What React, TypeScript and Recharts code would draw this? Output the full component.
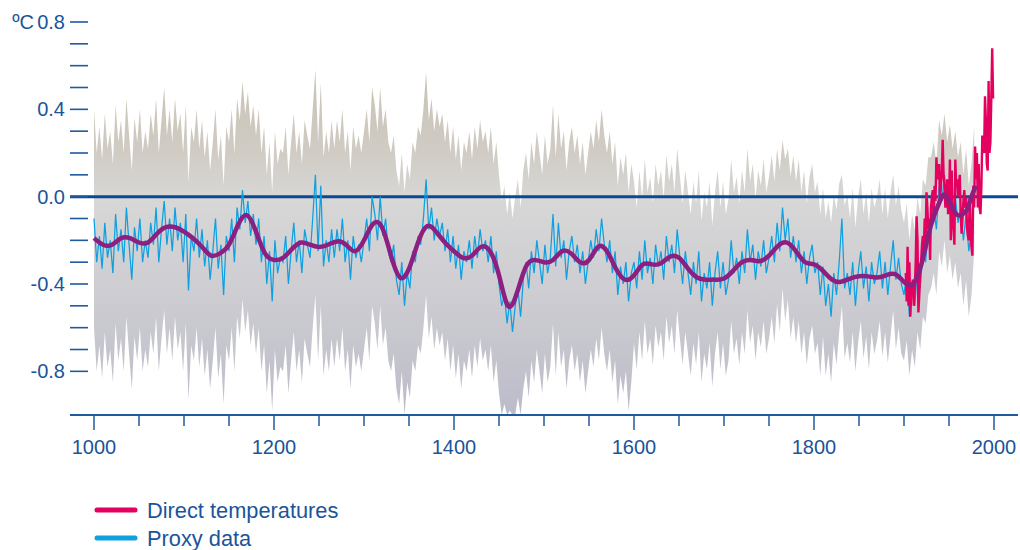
import React from 'react';
import { ComposedChart, Area, Line, XAxis, YAxis, ReferenceLine } from 'recharts';

// ---- data ----
const PROXY_START = 1000;
const PROXY_STEP = 3;

// Proxy reconstruction (blue), every 3 years, 1000-1978
const proxy: number[] = [
  -0.10, -0.30, -0.18, -0.33, -0.12, -0.28, -0.20, -0.35, -0.08, -0.25,
  -0.15, -0.30, -0.05, -0.22, -0.38, -0.14, -0.25, -0.10, -0.30, -0.20,
  -0.28, -0.12, -0.22, -0.05, -0.30, -0.15, -0.02, -0.22, -0.10, -0.25,
  -0.05, -0.20, -0.12, -0.30, -0.08, -0.43, -0.18, -0.25, -0.10, -0.28,
  -0.15, -0.32, -0.20, -0.38, -0.25, -0.10, -0.33, -0.22, -0.45, -0.18,
  -0.25, -0.10, -0.30, -0.05, -0.15, 0.03, -0.12, -0.02, -0.18, -0.08,
  -0.22, -0.10, -0.30, -0.18, -0.40, -0.25, -0.48, -0.20, -0.35, -0.28,
  -0.30, -0.18, -0.40, -0.25, -0.12, -0.30, -0.20, -0.35, -0.15, -0.22,
  -0.28, -0.10, 0.10, -0.25, 0.05, -0.32, -0.20, -0.30, -0.15, -0.28,
  -0.15, -0.25, -0.10, -0.30, -0.20, -0.38, -0.18, -0.28, -0.22, -0.30,
  -0.20, -0.10, -0.25, 0.00, -0.08, -0.20, 0.00, -0.18, -0.10, -0.25,
  -0.30, -0.22, -0.38, -0.45, -0.30, -0.50, -0.35, -0.42, -0.25, -0.30,
  -0.18, -0.22, -0.10, 0.08, -0.15, -0.05, -0.20, -0.10, -0.18, -0.12,
  -0.25, -0.15, -0.30, -0.18, -0.33, -0.22, -0.38, -0.25, -0.30, -0.20,
  -0.33, -0.18, -0.28, -0.15, -0.25, -0.20, -0.30, -0.18, -0.35, -0.25,
  -0.40, -0.50, -0.45, -0.58, -0.48, -0.62, -0.50, -0.42, -0.55, -0.38,
  -0.30, -0.42, -0.25, -0.35, -0.20, -0.30, -0.40, -0.22, -0.35, -0.28,
  -0.08, -0.32, -0.12, -0.28, -0.20, -0.38, -0.25, -0.18, -0.30, -0.22,
  -0.35, -0.25, -0.40, -0.30, -0.20, -0.28, -0.15, -0.25, -0.10, -0.22,
  -0.30, -0.20, -0.35, -0.25, -0.45, -0.32, -0.40, -0.30, -0.48, -0.35,
  -0.30, -0.42, -0.25, -0.38, -0.20, -0.35, -0.28, -0.40, -0.22, -0.32,
  -0.25, -0.38, -0.18, -0.30, -0.22, -0.35, -0.15, -0.28, -0.40, -0.25,
  -0.35, -0.45, -0.30, -0.40, -0.25, -0.48, -0.35, -0.42, -0.30, -0.50,
  -0.35, -0.25, -0.42, -0.30, -0.45, -0.38, -0.20, -0.35, -0.28, -0.40,
  -0.25, -0.35, -0.15, -0.30, -0.22, -0.38, -0.25, -0.32, -0.20, -0.35,
  -0.28, -0.18, -0.30, -0.12, -0.25, -0.05, -0.20, -0.10, -0.28, -0.18,
  -0.30, -0.20, -0.35, -0.25, -0.40, -0.28, -0.22, -0.35, -0.30, -0.45,
  -0.32, -0.50, -0.40, -0.55, -0.35, -0.45, -0.30, -0.10, -0.42, -0.35,
  -0.45, -0.30, -0.50, -0.35, -0.25, -0.42, -0.32, -0.48, -0.30, -0.40,
  -0.35, -0.25, -0.42, -0.30, -0.45, -0.32, -0.20, -0.38, -0.28, -0.40,
  -0.45, -0.35, -0.55, -0.40, -0.50, -0.32, -0.42, -0.25, -0.30, -0.15,
  -0.12, -0.05, -0.15, 0.05, -0.02, 0.10, -0.05, 0.03, -0.08, 0.00,
  -0.12, -0.05, -0.20, -0.08, -0.25, -0.15, 0.05,
];

// Upper edge of the uncertainty band, same years
const bandHigh: number[] = [
  0.40, 0.20, 0.32, 0.17, 0.38, 0.22, 0.30, 0.15, 0.42, 0.25,
  0.35, 0.20, 0.45, 0.28, 0.12, 0.36, 0.25, 0.40, 0.20, 0.30,
  0.22, 0.38, 0.28, 0.45, 0.20, 0.35, 0.50, 0.28, 0.40, 0.25,
  0.45, 0.30, 0.38, 0.20, 0.42, 0.07, 0.32, 0.25, 0.40, 0.22,
  0.35, 0.18, 0.30, 0.12, 0.25, 0.40, 0.17, 0.28, 0.05, 0.32,
  0.25, 0.40, 0.20, 0.45, 0.35, 0.53, 0.38, 0.48, 0.32, 0.42,
  0.28, 0.40, 0.20, 0.32, 0.10, 0.25, 0.02, 0.30, 0.15, 0.22,
  0.20, 0.32, 0.10, 0.25, 0.38, 0.20, 0.30, 0.15, 0.35, 0.28,
  0.22, 0.40, 0.58, 0.25, 0.52, 0.18, 0.30, 0.20, 0.35, 0.22,
  0.35, 0.25, 0.40, 0.20, 0.30, 0.12, 0.32, 0.22, 0.28, 0.20,
  0.30, 0.40, 0.25, 0.50, 0.42, 0.30, 0.50, 0.32, 0.40, 0.25,
  0.20, 0.28, 0.12, 0.05, 0.20, 0.02, 0.15, 0.08, 0.25, 0.20,
  0.32, 0.28, 0.40, 0.57, 0.35, 0.45, 0.30, 0.40, 0.32, 0.38,
  0.25, 0.35, 0.20, 0.32, 0.17, 0.28, 0.12, 0.25, 0.20, 0.30,
  0.17, 0.32, 0.22, 0.35, 0.25, 0.30, 0.20, 0.32, 0.15, 0.25,
  0.10, -0.02, 0.05, -0.08, 0.02, -0.10, 0.00, 0.08, -0.05, 0.12,
  0.20, 0.08, 0.25, 0.15, 0.30, 0.20, 0.10, 0.28, 0.15, 0.22,
  0.42, 0.18, 0.38, 0.22, 0.30, 0.12, 0.25, 0.32, 0.20, 0.28,
  0.15, 0.25, 0.10, 0.20, 0.30, 0.22, 0.35, 0.25, 0.40, 0.28,
  0.20, 0.30, 0.15, 0.25, 0.05, 0.18, 0.10, 0.20, 0.02, 0.15,
  0.07, -0.05, 0.12, -0.01, 0.17, 0.02, 0.09, -0.03, 0.15, 0.05,
  0.12, -0.01, 0.19, 0.07, 0.15, 0.02, 0.22, 0.09, -0.03, 0.12,
  0.02, -0.08, 0.07, -0.03, 0.12, -0.11, 0.02, -0.05, 0.07, -0.13,
  0.02, 0.12, -0.05, 0.07, -0.08, -0.01, 0.17, 0.02, 0.09, -0.03,
  0.12, 0.02, 0.22, 0.07, 0.15, -0.01, 0.12, 0.05, 0.17, 0.02,
  0.09, 0.19, 0.07, 0.22, 0.12, 0.26, 0.17, 0.22, 0.09, 0.19,
  0.07, 0.17, 0.02, 0.12, -0.03, 0.09, 0.15, 0.02, 0.07, -0.08,
  0.04, -0.10, -0.02, -0.12, 0.01, -0.06, 0.06, 0.10, -0.04, 0.01,
  -0.10, 0.04, -0.14, 0.00, 0.08, -0.08, 0.02, -0.12, 0.04, -0.05,
  0.00, 0.08, -0.08, 0.04, -0.10, 0.02, 0.10, -0.04, 0.05, -0.06,
  -0.12, -0.03, -0.20, -0.08, -0.15, 0.00, -0.08, 0.08, 0.05, 0.18,
  0.18, 0.25, 0.15, 0.35, 0.28, 0.38, 0.25, 0.33, 0.22, 0.30,
  0.18, 0.25, 0.10, 0.22, 0.05, 0.15, 0.32,
];

// Lower edge of the uncertainty band, same years
const bandLow: number[] = [
  -0.60, -0.80, -0.68, -0.83, -0.62, -0.78, -0.70, -0.85, -0.58, -0.75,
  -0.65, -0.80, -0.55, -0.72, -0.88, -0.64, -0.75, -0.60, -0.80, -0.70,
  -0.78, -0.62, -0.72, -0.55, -0.80, -0.65, -0.52, -0.72, -0.60, -0.75,
  -0.55, -0.70, -0.62, -0.80, -0.58, -0.93, -0.68, -0.75, -0.60, -0.78,
  -0.65, -0.82, -0.70, -0.88, -0.75, -0.60, -0.83, -0.72, -0.95, -0.68,
  -0.75, -0.60, -0.80, -0.55, -0.65, -0.47, -0.62, -0.52, -0.68, -0.58,
  -0.72, -0.60, -0.80, -0.68, -0.90, -0.75, -0.98, -0.70, -0.85, -0.78,
  -0.80, -0.68, -0.90, -0.75, -0.62, -0.80, -0.70, -0.85, -0.65, -0.72,
  -0.78, -0.60, -0.45, -0.75, -0.50, -0.82, -0.70, -0.80, -0.65, -0.78,
  -0.65, -0.75, -0.60, -0.80, -0.70, -0.88, -0.68, -0.78, -0.72, -0.80,
  -0.70, -0.60, -0.75, -0.50, -0.58, -0.70, -0.50, -0.68, -0.60, -0.75,
  -0.80, -0.72, -0.88, -0.95, -0.80, -1.00, -0.85, -0.92, -0.75, -0.80,
  -0.68, -0.72, -0.60, -0.45, -0.65, -0.55, -0.70, -0.60, -0.68, -0.62,
  -0.75, -0.65, -0.80, -0.68, -0.83, -0.72, -0.88, -0.75, -0.80, -0.70,
  -0.83, -0.68, -0.78, -0.65, -0.75, -0.70, -0.80, -0.68, -0.85, -0.75,
  -0.90, -1.00, -0.95, -1.00, -0.98, -1.00, -1.00, -0.92, -1.00, -0.88,
  -0.80, -0.92, -0.75, -0.85, -0.70, -0.80, -0.90, -0.72, -0.85, -0.78,
  -0.58, -0.82, -0.62, -0.78, -0.70, -0.88, -0.75, -0.68, -0.80, -0.72,
  -0.85, -0.75, -0.90, -0.80, -0.70, -0.78, -0.65, -0.75, -0.60, -0.72,
  -0.80, -0.70, -0.85, -0.75, -0.95, -0.82, -0.90, -0.80, -0.98, -0.85,
  -0.67, -0.79, -0.62, -0.75, -0.57, -0.72, -0.65, -0.77, -0.59, -0.69,
  -0.62, -0.75, -0.55, -0.67, -0.59, -0.72, -0.52, -0.65, -0.77, -0.62,
  -0.72, -0.82, -0.67, -0.77, -0.62, -0.85, -0.72, -0.79, -0.67, -0.87,
  -0.72, -0.62, -0.79, -0.67, -0.82, -0.75, -0.57, -0.72, -0.65, -0.77,
  -0.62, -0.72, -0.52, -0.67, -0.59, -0.75, -0.62, -0.69, -0.57, -0.72,
  -0.65, -0.55, -0.67, -0.49, -0.62, -0.42, -0.57, -0.47, -0.65, -0.55,
  -0.67, -0.57, -0.72, -0.62, -0.77, -0.65, -0.59, -0.72, -0.67, -0.82,
  -0.64, -0.82, -0.72, -0.85, -0.67, -0.77, -0.62, -0.50, -0.74, -0.67,
  -0.76, -0.62, -0.80, -0.67, -0.57, -0.74, -0.64, -0.79, -0.62, -0.72,
  -0.66, -0.57, -0.73, -0.62, -0.76, -0.64, -0.52, -0.70, -0.60, -0.72,
  -0.75, -0.66, -0.82, -0.70, -0.78, -0.62, -0.70, -0.55, -0.58, -0.45,
  -0.42, -0.35, -0.45, -0.25, -0.32, -0.20, -0.35, -0.27, -0.38, -0.30,
  -0.42, -0.35, -0.50, -0.38, -0.55, -0.45, -0.25,
];

// Smoothed reconstruction (purple)
const smoothYears: number[] = [
  1000, 1010, 1020, 1030, 1040, 1050, 1060, 1070, 1080, 1090,
  1100, 1110, 1120, 1130, 1140, 1150, 1160, 1170, 1180, 1190,
  1200, 1210, 1220, 1230, 1240, 1250, 1260, 1270, 1280, 1290,
  1300, 1310, 1320, 1330, 1340, 1350, 1360, 1370, 1380, 1390,
  1400, 1410, 1420, 1430, 1440, 1450, 1460, 1470, 1480, 1490,
  1500, 1510, 1520, 1530, 1540, 1550, 1560, 1570, 1580, 1590,
  1600, 1610, 1620, 1630, 1640, 1650, 1660, 1670, 1680, 1690,
  1700, 1710, 1720, 1730, 1740, 1750, 1760, 1770, 1780, 1790,
  1800, 1810, 1820, 1830, 1840, 1850, 1860, 1870, 1880, 1890,
  1900, 1910, 1920, 1930, 1940, 1945, 1950, 1955, 1960, 1965,
  1970, 1975, 1980,
];
const smoothValues: number[] = [
  -0.19, -0.22, -0.22, -0.19, -0.19, -0.21, -0.21, -0.17, -0.14, -0.14,
  -0.16, -0.19, -0.23, -0.27, -0.26, -0.22, -0.13, -0.085, -0.16, -0.26,
  -0.29, -0.28, -0.24, -0.21, -0.22, -0.23, -0.22, -0.205, -0.22, -0.25,
  -0.2, -0.125, -0.14, -0.27, -0.37, -0.33, -0.21, -0.135, -0.16, -0.21,
  -0.25, -0.28, -0.27, -0.23, -0.25, -0.36, -0.5, -0.44, -0.32, -0.29,
  -0.3, -0.29, -0.25, -0.26, -0.3, -0.29, -0.23, -0.25, -0.33, -0.38,
  -0.36, -0.31, -0.31, -0.305, -0.275, -0.28, -0.33, -0.37, -0.38, -0.38,
  -0.375, -0.34, -0.3, -0.29, -0.295, -0.27, -0.225, -0.21, -0.25, -0.3,
  -0.31, -0.34, -0.38, -0.39, -0.375, -0.365, -0.365, -0.37, -0.36, -0.355,
  -0.39, -0.4, -0.3, -0.13, -0.02, 0.01, -0.02, -0.06, -0.085, -0.08,
  -0.06, 0.0, 0.05,
];

// Direct (instrumental) temperatures (red), annual 1902-1999
const DIRECT_START = 1902;
const direct: number[] = [
  -0.35, -0.48, -0.23, -0.50, -0.30, -0.55, -0.45, -0.40,
  -0.38, -0.50, -0.42, -0.30, -0.09, -0.20, -0.53, -0.45, -0.35, -0.30,
  -0.22, -0.18, -0.25, -0.10, -0.20, 0.02, -0.05, -0.15, -0.10, -0.29,
  -0.05, 0.00, 0.03, -0.10, 0.05, -0.02, 0.18, 0.10, 0.08, 0.15,
  -0.02, 0.05, 0.12, 0.26, 0.10, 0.05, -0.05, 0.00, 0.08, -0.08,
  -0.05, 0.17, -0.20, 0.12, -0.10, -0.15, -0.22, 0.17, 0.05, 0.08,
  0.00, 0.05, 0.10, -0.08, -0.17, -0.10, -0.02, 0.03, -0.05, 0.00,
  -0.14, -0.18, -0.20, 0.00, -0.15, -0.23, -0.27, 0.05, -0.05, 0.23,
  0.08, 0.20, -0.05, 0.15, -0.05, -0.08, 0.05, 0.28, 0.22, 0.20,
  0.46, 0.35, 0.15, 0.12, 0.53, 0.20, 0.25, 0.45, 0.68, 0.45,
];

const xTicks: number[] = [
  1000, 1050, 1100, 1150, 1200, 1250, 1300, 1350, 1400, 1450, 1500,
  1550, 1600, 1650, 1700, 1750, 1800, 1850, 1900, 1950, 2000,
];
const xLabels: number[] = [1000, 1200, 1400, 1600, 1800, 2000];
const yTicks: number[] = [
  -0.8, -0.7, -0.6, -0.5, -0.4, -0.3, -0.2, -0.1, 0,
  0.1, 0.2, 0.3, 0.4, 0.5, 0.6, 0.7, 0.8,
];
const yLabels: number[] = [-0.8, -0.4, 0, 0.4, 0.8];
const unitLabel = '\u00BAC';
const legendItems = [
  { label: 'Direct temperatures', color: '#e4005e' },
  { label: 'Proxy data', color: '#0ea0e0' },
];

// ---- built tables ----
const proxyData = proxy.map((v, i) => ({ year: PROXY_START + i * PROXY_STEP, v }));
const bandData = proxy.map((_, i) => ({
  year: PROXY_START + i * PROXY_STEP,
  range: [bandLow[i], bandHigh[i]],
}));
const smoothData = smoothYears.map((y, i) => ({ year: y, v: smoothValues[i] }));
const directData = direct.map((v, i) => ({ year: DIRECT_START + i, v }));

const FONT = '"Liberation Sans", Arial, Helvetica, sans-serif';
const TEXT = '#1b5499';
const AXIS = '#1f5a9e';

const XTick = (props: any) => {
  const { x, y, payload } = props;
  const major = xLabels.includes(payload.value);
  return (
    <g>
      <line x1={x} x2={x} y1={y} y2={y + (major ? 15 : 11)} stroke={AXIS} strokeWidth={1.5} />
      {major && (
        <text x={x} y={y + 39} textAnchor="middle" fill={TEXT} fontSize={20} fontFamily={FONT}>
          {payload.value}
        </text>
      )}
    </g>
  );
};

const YTick = (props: any) => {
  const { x, y, payload } = props;
  const v: number = payload.value;
  const lab = yLabels.some((l) => Math.abs(l - v) < 1e-6);
  return (
    <g>
      <line x1={x} x2={x + 18} y1={y} y2={y} stroke={AXIS} strokeWidth={1.6} />
      {lab && (
        <text x={x - 5} y={y} dy={7} textAnchor="end" fill={TEXT} fontSize={20} fontFamily={FONT}>
          {v.toFixed(1)}
        </text>
      )}
      {Math.abs(v - 0.8) < 1e-6 && (
        <text x={x - 36} y={y} dy={7} textAnchor="end" fill={TEXT} fontSize={20} fontFamily={FONT}>
          {unitLabel}
        </text>
      )}
    </g>
  );
};

export default function App() {
  return (
    <div style={{ position: 'absolute', left: 0, top: 0, width: 1020, height: 550, background: '#fff', overflow: 'hidden' }}>
      <ComposedChart width={1020} height={550} margin={{ top: 22, right: 2, bottom: 95, left: 0 }}>
        <defs>
          <linearGradient id="bandGrad" gradientUnits="userSpaceOnUse" x1="0" y1="22" x2="0" y2="415">
            <stop offset="0" stopColor="#c6bdad" />
            <stop offset="0.12" stopColor="#c9c1b3" />
            <stop offset="0.33" stopColor="#d0ccc4" />
            <stop offset="0.45" stopColor="#d7d7d6" />
            <stop offset="0.62" stopColor="#d0d0d4" />
            <stop offset="0.8" stopColor="#c7c7ce" />
            <stop offset="1" stopColor="#bcbbca" />
          </linearGradient>
        </defs>
        <XAxis
          type="number"
          dataKey="year"
          domain={[973.33, 2026.67]}
          ticks={xTicks}
          interval={0}
          tick={<XTick />}
          tickLine={false}
          tickSize={0}
          tickMargin={0}
          axisLine={{ stroke: AXIS, strokeWidth: 2 }}
          height={40}
          allowDataOverflow
        />
        <YAxis
          type="number"
          domain={[-1, 0.8]}
          ticks={yTicks}
          interval={0}
          tick={<YTick />}
          tickLine={false}
          tickSize={0}
          tickMargin={0}
          axisLine={false}
          width={70}
          allowDataOverflow
        />
        <Area
          data={bandData}
          dataKey="range"
          type="linear"
          stroke="none"
          fill="url(#bandGrad)"
          fillOpacity={1}
          isAnimationActive={false}
          activeDot={false}
        />
        <ReferenceLine y={0} stroke="#0b4a92" strokeWidth={3} />
        <Line
          data={proxyData}
          dataKey="v"
          type="linear"
          stroke="#0ea0e0"
          strokeWidth={1.25}
          dot={false}
          activeDot={false}
          isAnimationActive={false}
        />
        <Line
          data={directData}
          dataKey="v"
          type="linear"
          stroke="#e4005e"
          strokeWidth={2.4}
          dot={false}
          activeDot={false}
          isAnimationActive={false}
        />
        <Line
          data={smoothData}
          dataKey="v"
          type="natural"
          stroke="#8c1f80"
          strokeWidth={4.5}
          dot={false}
          activeDot={false}
          isAnimationActive={false}
        />
      </ComposedChart>
      <svg width={1020} height={550} style={{ position: 'absolute', left: 0, top: 0, pointerEvents: 'none' }}>
        {legendItems.map((it, i) => (
          <g key={it.label}>
            <line x1={97} x2={135} y1={510 + i * 28} y2={510 + i * 28} stroke={it.color} strokeWidth={5} strokeLinecap="round" />
            <text x={147} y={510 + i * 28} dy={7.5} fill={TEXT} fontSize={21.8} fontFamily={FONT}>
              {it.label}
            </text>
          </g>
        ))}
      </svg>
    </div>
  );
}
